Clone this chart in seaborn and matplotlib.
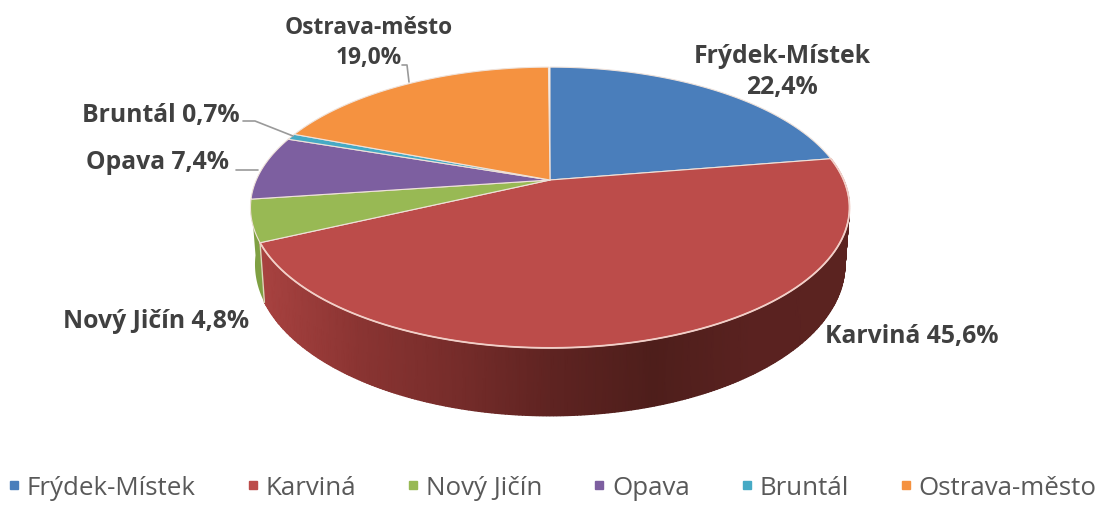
#!/usr/bin/env python3
"""Podíl okresů - 3D koláč s perspektivou, osy jsou v pixelech obrázku."""

import numpy as np
import matplotlib
matplotlib.use("Agg")
import matplotlib.pyplot as plt
from matplotlib.colors import LinearSegmentedColormap
from matplotlib.lines import Line2D
import seaborn as sns

districts = ["Frýdek-Místek", "Karviná", "Nový Jičín", "Opava", "Bruntál", "Ostrava-město"]
shares = [22.4, 45.6, 4.8, 7.4, 0.7, 19.0]
colors = ["#4a7ebb", "#bc4c4a", "#98b954", "#7d5fa0", "#46aac5", "#f59240"]

# popisky: text, střed x, střed y, velikost
labels = [
    ("Frýdek-Místek\n22,4%", 782, 72, 17.8),
    ("Karviná 45,6%", 912, 336, 17.8),
    ("Nový Jičín 4,8%", 156, 321, 17.8),
    ("Opava 7,4%", 158, 162, 17.8),
    ("Bruntál 0,7%", 161, 115, 17.8),
    ("Ostrava-město\n19,0%", 369, 43, 16.4),
]
leaders = [
    ([243, 255, 293], [122, 122, 137]),
    ([236, 258], [171, 171]),
    ([402, 407, 409], [66, 66, 83]),
]

CX, CY = 550, 181
RX, RY = 293.7, 135
K = 0.196
DEPTH = 54.7
BOTTOM_SCALE = 0.985

sns.set_theme(style="white")
plt.rcParams["font.family"] = ["Open Sans", "DejaVu Sans"]
palette = sns.color_palette(colors)
side_cmap = LinearSegmentedColormap.from_list(
    "side", ["#a84240", "#8a3432", "#762c2a", "#5e2321", "#4e1e1b", "#5a2220", "#5b2320"]
)


def project(theta, drop=0.0):
    x, y = np.sin(theta), np.cos(theta)
    w = 1 + K * y
    scale = BOTTOM_SCALE if drop else 1.0
    return CX + scale * RX * x / w, CY - RY * y / w + drop / w


fig = plt.figure(figsize=(10.99, 5.06), dpi=100)
ax = fig.add_axes([0, 0, 1, 1])
ax.set_xlim(0, 1099)
ax.set_ylim(506, 0)
ax.axis("off")

edges = np.radians(np.cumsum([0] + shares) * 3.6)

# bok koláče - Karviná s přechodem, Nový Jičín jen proužek vlevo
t = np.linspace(edges[1], edges[2], 300)
top_x, top_y = project(t)
low_x, low_y = project(t, DEPTH)
mesh_x = np.vstack([top_x, low_x])
mesh_y = np.vstack([top_y, low_y])
ax.pcolormesh(mesh_x, mesh_y, (mesh_x - 262) / (849 - 262), cmap=side_cmap, vmin=0, vmax=1,
              shading="gouraud", zorder=1)

t = np.linspace(edges[2], edges[3], 40)
xs, ys = project(t)
xb, yb = project(t, DEPTH)
ax.fill(np.r_[xs, xb[::-1]], np.r_[ys, yb[::-1]], color="#7fa043", lw=0, zorder=0.5)

# vrchní plocha
for i, col in enumerate(palette):
    t = np.linspace(edges[i], edges[i + 1], 200)
    xs, ys = project(t)
    ax.fill(np.r_[CX, xs], np.r_[CY, ys], facecolor=col, edgecolor="#efe2da",
            lw=0.8, zorder=2, joinstyle="round")

# světlý lem na hraně Karviné
t = np.linspace(edges[1], edges[2], 200)
xs, ys = project(t)
ax.plot(xs, ys, color="#f2cfc8", lw=1.3, zorder=2.5)
xa, ya = project(edges[2])
xb, yb = project(edges[2], DEPTH)
ax.plot([xa, xb], [ya, yb], color="#d8dcb8", lw=1.0, zorder=1.5)

for xs, ys in leaders:
    ax.plot(xs, ys, color="#9a9a9a", lw=1.2, zorder=3)

for text, x, y, size in labels:
    ax.text(x, y, text, ha="center", va="center", fontsize=size, fontweight="bold",
            color="#404040", linespacing=1.35, zorder=4)

handles = [Line2D([], [], ls="", marker="s", ms=5.5, color=c) for c in palette]
ax.legend(handles, districts, loc="lower center", bbox_to_anchor=(0.5, -0.026), ncol=6,
          frameon=False, fontsize=18.6, labelcolor="#595959", handletextpad=0.05,
          columnspacing=1.75, handlelength=0.9, borderpad=0.2)

fig.savefig("out.png", dpi=100)
